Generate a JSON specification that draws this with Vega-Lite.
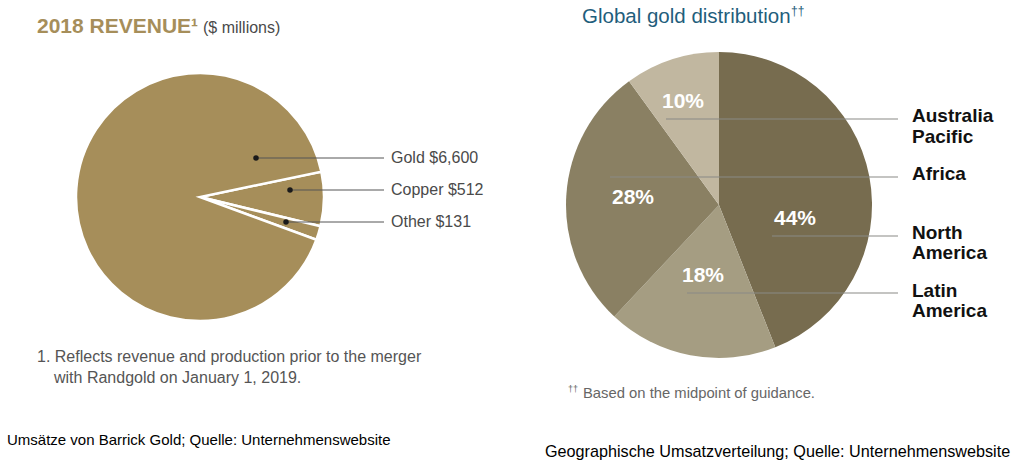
{
  "$schema": "https://vega.github.io/schema/vega-lite/v6.json",
  "width": 1024,
  "height": 476,
  "padding": 0,
  "autosize": {"type": "fit", "contains": "padding"},
  "background": "#ffffff",
  "config": {"view": {"stroke": null}, "axis": {"disable": true}, "font": "Liberation Sans"},
  "resolve": {"scale": {"theta": "independent", "color": "independent"}},
  "layer": [
    {
      "data": {"values": [
        {"metal": "Copper", "revenue": 512, "rank": 1},
        {"metal": "Other", "revenue": 131, "rank": 2},
        {"metal": "Gold", "revenue": 6600, "rank": 3}
      ]},
      "mark": {"type": "arc", "outerRadius": 124, "fill": "#a68e5a", "stroke": "#ffffff", "strokeWidth": 2.5},
      "encoding": {
        "theta": {"field": "revenue", "type": "quantitative", "stack": true, "scale": {"range": [1.365, 7.648]}},
        "order": {"field": "rank", "type": "quantitative"},
        "x": {"datum": 200, "type": "quantitative", "scale": {"domain": [0, 1024], "nice": false, "zero": false}},
        "y": {"datum": 197, "type": "quantitative", "scale": {"domain": [0, 476], "nice": false, "zero": false, "reverse": true}}
      }
    },
    {
      "data": {"values": [
        {"region": "North America", "share": 44, "rank": 1},
        {"region": "Latin America", "share": 18, "rank": 2},
        {"region": "Africa", "share": 28, "rank": 3},
        {"region": "Australia Pacific", "share": 10, "rank": 4}
      ]},
      "mark": {"type": "arc", "outerRadius": 153},
      "encoding": {
        "theta": {"field": "share", "type": "quantitative", "stack": true},
        "order": {"field": "rank", "type": "quantitative"},
        "color": {"field": "region", "type": "nominal", "legend": null,
          "scale": {"domain": ["North America", "Latin America", "Africa", "Australia Pacific"], "range": ["#776c4f", "#a59d82", "#8a8063", "#c1b7a0"]}},
        "x": {"datum": 719, "type": "quantitative", "scale": {"domain": [0, 1024], "nice": false, "zero": false}},
        "y": {"datum": 205, "type": "quantitative", "scale": {"domain": [0, 476], "nice": false, "zero": false, "reverse": true}}
      }
    },
    {
      "data": {"values": [
        {"metal": "Gold", "px": 256, "lx": 384, "ly": 158},
        {"metal": "Copper", "px": 290, "lx": 384, "ly": 190},
        {"metal": "Other", "px": 286, "lx": 384, "ly": 222}
      ]},
      "mark": {"type": "rule", "color": "#555555", "strokeWidth": 1},
      "encoding": {
        "x": {"field": "px", "type": "quantitative", "scale": {"domain": [0, 1024], "nice": false, "zero": false}},
        "x2": {"field": "lx"},
        "y": {"field": "ly", "type": "quantitative", "scale": {"domain": [0, 476], "nice": false, "zero": false, "reverse": true}}
      }
    },
    {
      "data": {"values": [
        {"metal": "Gold", "px": 256, "ly": 158},
        {"metal": "Copper", "px": 290, "ly": 190},
        {"metal": "Other", "px": 286, "ly": 222}
      ]},
      "mark": {"type": "point", "filled": true, "color": "#1a1a1a", "size": 30, "opacity": 1},
      "encoding": {
        "x": {"field": "px", "type": "quantitative", "scale": {"domain": [0, 1024], "nice": false, "zero": false}},
        "y": {"field": "ly", "type": "quantitative", "scale": {"domain": [0, 476], "nice": false, "zero": false, "reverse": true}}
      }
    },
    {
      "data": {"values": [
        {"label": "Gold $6,600", "lx": 391, "ly": 158},
        {"label": "Copper $512", "lx": 391, "ly": 190},
        {"label": "Other $131", "lx": 391, "ly": 222}
      ]},
      "mark": {"type": "text", "align": "left", "baseline": "middle", "fontSize": 16, "color": "#4a4a4a"},
      "encoding": {
        "text": {"field": "label"},
        "x": {"field": "lx", "type": "quantitative", "scale": {"domain": [0, 1024], "nice": false, "zero": false}},
        "y": {"field": "ly", "type": "quantitative", "scale": {"domain": [0, 476], "nice": false, "zero": false, "reverse": true}}
      }
    },
    {
      "data": {"values": [
        {"region": "Australia Pacific", "sx": 666, "ex": 898, "ly": 119},
        {"region": "Africa", "sx": 610, "ex": 898, "ly": 177},
        {"region": "North America", "sx": 772, "ex": 898, "ly": 236},
        {"region": "Latin America", "sx": 687, "ex": 898, "ly": 293}
      ]},
      "mark": {"type": "rule", "color": "#8a8a86", "strokeWidth": 1.2},
      "encoding": {
        "x": {"field": "sx", "type": "quantitative", "scale": {"domain": [0, 1024], "nice": false, "zero": false}},
        "x2": {"field": "ex"},
        "y": {"field": "ly", "type": "quantitative", "scale": {"domain": [0, 476], "nice": false, "zero": false, "reverse": true}}
      }
    },
    {
      "data": {"values": [
        {"label": "10%", "lx": 683, "ly": 102},
        {"label": "28%", "lx": 633, "ly": 198},
        {"label": "44%", "lx": 795, "ly": 219},
        {"label": "18%", "lx": 703, "ly": 276}
      ]},
      "mark": {"type": "text", "align": "center", "baseline": "middle", "fontSize": 21, "fontWeight": "bold", "color": "#ffffff"},
      "encoding": {
        "text": {"field": "label"},
        "x": {"field": "lx", "type": "quantitative", "scale": {"domain": [0, 1024], "nice": false, "zero": false}},
        "y": {"field": "ly", "type": "quantitative", "scale": {"domain": [0, 476], "nice": false, "zero": false, "reverse": true}}
      }
    },
    {
      "data": {"values": [
        {"label": "Australia", "lx": 912, "ly": 116},
        {"label": "Pacific", "lx": 912, "ly": 137},
        {"label": "Africa", "lx": 912, "ly": 174},
        {"label": "North", "lx": 912, "ly": 233},
        {"label": "America", "lx": 912, "ly": 253},
        {"label": "Latin", "lx": 912, "ly": 291},
        {"label": "America", "lx": 912, "ly": 311}
      ]},
      "mark": {"type": "text", "align": "left", "baseline": "middle", "fontSize": 19, "fontWeight": "bold", "color": "#111111"},
      "encoding": {
        "text": {"field": "label"},
        "x": {"field": "lx", "type": "quantitative", "scale": {"domain": [0, 1024], "nice": false, "zero": false}},
        "y": {"field": "ly", "type": "quantitative", "scale": {"domain": [0, 476], "nice": false, "zero": false, "reverse": true}}
      }
    },
    {
      "data": {"values": [{"label": "2018 REVENUE¹", "lx": 37, "ly": 33}]},
      "mark": {"type": "text", "align": "left", "baseline": "alphabetic", "fontSize": 21, "fontWeight": "bold", "color": "#a68e5a"},
      "encoding": {
        "text": {"field": "label"},
        "x": {"field": "lx", "type": "quantitative", "scale": {"domain": [0, 1024], "nice": false, "zero": false}},
        "y": {"field": "ly", "type": "quantitative", "scale": {"domain": [0, 476], "nice": false, "zero": false, "reverse": true}}
      }
    },
    {
      "data": {"values": [{"label": "($ millions)", "lx": 203, "ly": 33}]},
      "mark": {"type": "text", "align": "left", "baseline": "alphabetic", "fontSize": 16, "color": "#4a4a4a"},
      "encoding": {
        "text": {"field": "label"},
        "x": {"field": "lx", "type": "quantitative", "scale": {"domain": [0, 1024], "nice": false, "zero": false}},
        "y": {"field": "ly", "type": "quantitative", "scale": {"domain": [0, 476], "nice": false, "zero": false, "reverse": true}}
      }
    },
    {
      "data": {"values": [
        {"label": "1. Reflects revenue and production prior to the merger", "lx": 37, "ly": 362},
        {"label": "with Randgold on January 1, 2019.", "lx": 54, "ly": 383}
      ]},
      "mark": {"type": "text", "align": "left", "baseline": "alphabetic", "fontSize": 16, "color": "#555555"},
      "encoding": {
        "text": {"field": "label"},
        "x": {"field": "lx", "type": "quantitative", "scale": {"domain": [0, 1024], "nice": false, "zero": false}},
        "y": {"field": "ly", "type": "quantitative", "scale": {"domain": [0, 476], "nice": false, "zero": false, "reverse": true}}
      }
    },
    {
      "data": {"values": [
        {"label": "Umsätze von Barrick Gold; Quelle: Unternehmenswebsite", "lx": 7, "ly": 445}
      ]},
      "mark": {"type": "text", "align": "left", "baseline": "alphabetic", "fontSize": 15, "color": "#000000"},
      "encoding": {
        "text": {"field": "label"},
        "x": {"field": "lx", "type": "quantitative", "scale": {"domain": [0, 1024], "nice": false, "zero": false}},
        "y": {"field": "ly", "type": "quantitative", "scale": {"domain": [0, 476], "nice": false, "zero": false, "reverse": true}}
      }
    },
    {
      "data": {"values": [
        {"label": "Geographische Umsatzverteilung; Quelle: Unternehmenswebsite", "lx": 545, "ly": 457}
      ]},
      "mark": {"type": "text", "align": "left", "baseline": "alphabetic", "fontSize": 16.2, "color": "#000000"},
      "encoding": {
        "text": {"field": "label"},
        "x": {"field": "lx", "type": "quantitative", "scale": {"domain": [0, 1024], "nice": false, "zero": false}},
        "y": {"field": "ly", "type": "quantitative", "scale": {"domain": [0, 476], "nice": false, "zero": false, "reverse": true}}
      }
    },
    {
      "data": {"values": [{"label": "Global gold distribution", "lx": 582, "ly": 23}]},
      "mark": {"type": "text", "align": "left", "baseline": "alphabetic", "fontSize": 20.5, "color": "#1f5e7c"},
      "encoding": {
        "text": {"field": "label"},
        "x": {"field": "lx", "type": "quantitative", "scale": {"domain": [0, 1024], "nice": false, "zero": false}},
        "y": {"field": "ly", "type": "quantitative", "scale": {"domain": [0, 476], "nice": false, "zero": false, "reverse": true}}
      }
    },
    {
      "data": {"values": [{"label": "††", "lx": 791, "ly": 15}]},
      "mark": {"type": "text", "align": "left", "baseline": "alphabetic", "fontSize": 12, "color": "#1f5e7c"},
      "encoding": {
        "text": {"field": "label"},
        "x": {"field": "lx", "type": "quantitative", "scale": {"domain": [0, 1024], "nice": false, "zero": false}},
        "y": {"field": "ly", "type": "quantitative", "scale": {"domain": [0, 476], "nice": false, "zero": false, "reverse": true}}
      }
    },
    {
      "data": {"values": [{"label": "††", "lx": 568, "ly": 392}]},
      "mark": {"type": "text", "align": "left", "baseline": "alphabetic", "fontSize": 9, "color": "#666666"},
      "encoding": {
        "text": {"field": "label"},
        "x": {"field": "lx", "type": "quantitative", "scale": {"domain": [0, 1024], "nice": false, "zero": false}},
        "y": {"field": "ly", "type": "quantitative", "scale": {"domain": [0, 476], "nice": false, "zero": false, "reverse": true}}
      }
    },
    {
      "data": {"values": [{"label": "Based on the midpoint of guidance.", "lx": 583, "ly": 398}]},
      "mark": {"type": "text", "align": "left", "baseline": "alphabetic", "fontSize": 14.8, "color": "#666666"},
      "encoding": {
        "text": {"field": "label"},
        "x": {"field": "lx", "type": "quantitative", "scale": {"domain": [0, 1024], "nice": false, "zero": false}},
        "y": {"field": "ly", "type": "quantitative", "scale": {"domain": [0, 476], "nice": false, "zero": false, "reverse": true}}
      }
    }
  ]
}
